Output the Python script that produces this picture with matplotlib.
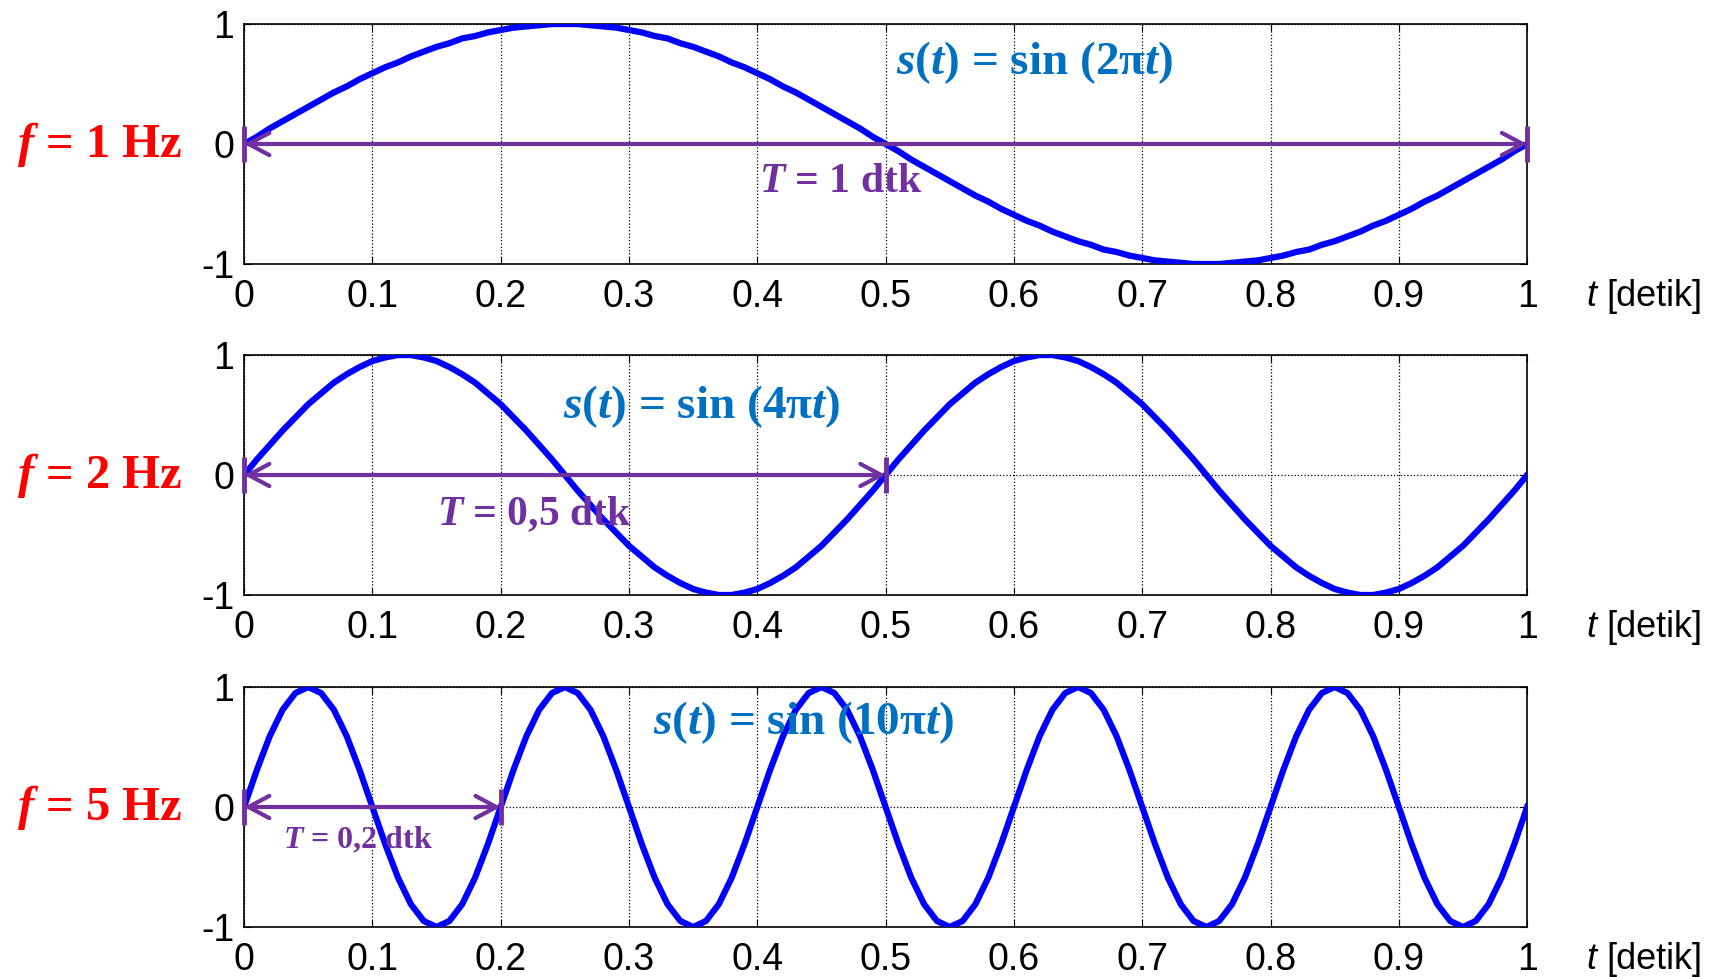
import matplotlib
matplotlib.use("Agg")
import matplotlib.pyplot as plt
import matplotlib.transforms as mtransforms

plt.rcParams['font.family'] = ['Liberation Sans', 'DejaVu Sans']
plt.rcParams['mathtext.fontset'] = 'custom'
plt.rcParams['mathtext.it'] = 'Liberation Serif:italic:bold'
plt.rcParams['mathtext.rm'] = 'Liberation Serif:bold'
plt.rcParams['mathtext.bf'] = 'Liberation Serif:bold'

# time axis [detik], sampled every 0.01 s
t = [k / 100 for k in range(101)]

# f = 1 Hz
s1 = [0.00, 0.06, 0.13, 0.19, 0.25, 0.31, 0.37, 0.43, 0.48, 0.54,
      0.59, 0.64, 0.68, 0.73, 0.77, 0.81, 0.84, 0.88, 0.90, 0.93,
      0.95, 0.97, 0.98, 0.99, 1.00, 1.00, 1.00, 0.99, 0.98, 0.97,
      0.95, 0.93, 0.90, 0.88, 0.84, 0.81, 0.77, 0.73, 0.68, 0.64,
      0.59, 0.54, 0.48, 0.43, 0.37, 0.31, 0.25, 0.19, 0.13, 0.06,
      0.00, -0.06, -0.13, -0.19, -0.25, -0.31, -0.37, -0.43, -0.48, -0.54,
      -0.59, -0.64, -0.68, -0.73, -0.77, -0.81, -0.84, -0.88, -0.90, -0.93,
      -0.95, -0.97, -0.98, -0.99, -1.00, -1.00, -1.00, -0.99, -0.98, -0.97,
      -0.95, -0.93, -0.90, -0.88, -0.84, -0.81, -0.77, -0.73, -0.68, -0.64,
      -0.59, -0.54, -0.48, -0.43, -0.37, -0.31, -0.25, -0.19, -0.13, -0.06,
      0.00]

# f = 2 Hz
s2 = [0.00, 0.13, 0.25, 0.37, 0.48, 0.59, 0.68, 0.77, 0.84, 0.90,
      0.95, 0.98, 1.00, 1.00, 0.98, 0.95, 0.90, 0.84, 0.77, 0.68,
      0.59, 0.48, 0.37, 0.25, 0.13, 0.00, -0.13, -0.25, -0.37, -0.48,
      -0.59, -0.68, -0.77, -0.84, -0.90, -0.95, -0.98, -1.00, -1.00, -0.98,
      -0.95, -0.90, -0.84, -0.77, -0.68, -0.59, -0.48, -0.37, -0.25, -0.13,
      0.00, 0.13, 0.25, 0.37, 0.48, 0.59, 0.68, 0.77, 0.84, 0.90,
      0.95, 0.98, 1.00, 1.00, 0.98, 0.95, 0.90, 0.84, 0.77, 0.68,
      0.59, 0.48, 0.37, 0.25, 0.13, 0.00, -0.13, -0.25, -0.37, -0.48,
      -0.59, -0.68, -0.77, -0.84, -0.90, -0.95, -0.98, -1.00, -1.00, -0.98,
      -0.95, -0.90, -0.84, -0.77, -0.68, -0.59, -0.48, -0.37, -0.25, -0.13,
      0.00]

# f = 5 Hz
s3 = [0.00, 0.31, 0.59, 0.81, 0.95, 1.00, 0.95, 0.81, 0.59, 0.31,
      0.00, -0.31, -0.59, -0.81, -0.95, -1.00, -0.95, -0.81, -0.59, -0.31,
      0.00, 0.31, 0.59, 0.81, 0.95, 1.00, 0.95, 0.81, 0.59, 0.31,
      0.00, -0.31, -0.59, -0.81, -0.95, -1.00, -0.95, -0.81, -0.59, -0.31,
      0.00, 0.31, 0.59, 0.81, 0.95, 1.00, 0.95, 0.81, 0.59, 0.31,
      0.00, -0.31, -0.59, -0.81, -0.95, -1.00, -0.95, -0.81, -0.59, -0.31,
      0.00, 0.31, 0.59, 0.81, 0.95, 1.00, 0.95, 0.81, 0.59, 0.31,
      0.00, -0.31, -0.59, -0.81, -0.95, -1.00, -0.95, -0.81, -0.59, -0.31,
      0.00, 0.31, 0.59, 0.81, 0.95, 1.00, 0.95, 0.81, 0.59, 0.31,
      0.00, -0.31, -0.59, -0.81, -0.95, -1.00, -0.95, -0.81, -0.59, -0.31,
      0.00]

signals = [s1, s2, s3]
periods = [1.0, 0.5, 0.2]
freq_labels = [r'$f$ = 1 Hz', r'$f$ = 2 Hz', r'$f$ = 5 Hz']
formulas = [r'$s$($t$) = sin (2π$t$)', r'$s$($t$) = sin (4π$t$)', r'$s$($t$) = sin (10π$t$)']
period_labels = [r'$T$ = 1 dtk', r'$T$ = 0,5 dtk', r'$T$ = 0,2 dtk']
xticks = [0, 0.1, 0.2, 0.3, 0.4, 0.5, 0.6, 0.7, 0.8, 0.9, 1]
xticklabels = ['0', '0.1', '0.2', '0.3', '0.4', '0.5', '0.6', '0.7', '0.8', '0.9', '1']
yticks = [-1, 0, 1]

# layout (data coords of annotation text)
formula_pos = [(0.616, 0.675), (0.357, 0.567), (0.436, 0.70)]
period_pos = [(0.465, -0.317), (0.226, -0.325), (0.089, -0.275)]
period_size = [30, 30, 23]

blue = '#0000FF'
formula_col = '#0070C0'
purple = '#7030A0'
red = '#FF0000'

fig = plt.figure(figsize=(17.25, 9.77), dpi=100)
bottoms = [0.7298, 0.391, 0.0512]

for i in range(3):
    ax = fig.add_axes([0.1415, bottoms[i], 0.7438, 0.2456])
    ax.plot(t, signals[i], color=blue, lw=4.5, zorder=3)
    ax.set_xlim(0, 1)
    ax.set_ylim(-1, 1)
    ax.set_xticks(xticks)
    ax.set_xticklabels(xticklabels)
    ax.set_yticks(yticks)
    ax.set_yticklabels(['-1', '0', '1'])
    ax.tick_params(direction='in', top=True, right=True, length=5, width=0.8,
                   labelsize=27)
    ax.tick_params(axis='x', pad=11)
    ax.tick_params(axis='y', pad=7)
    ax.grid(True, color='black', ls=':', lw=0.9)
    for sp in ax.spines.values():
        sp.set_linewidth(1.2)

    # period arrow
    T = periods[i]
    ax.annotate('', xy=(T, 0), xytext=(0, 0),
                arrowprops=dict(arrowstyle='<->,head_length=0.75,head_width=0.4',
                                color=purple, lw=3, shrinkA=0, shrinkB=0,
                                mutation_scale=20),
                zorder=4, annotation_clip=False)
    for xb in (0, T):
        ax.plot([xb, xb], [-0.15, 0.15], color=purple, lw=3.5,
                clip_on=False, zorder=4, solid_capstyle='butt')

    ax.text(formula_pos[i][0], formula_pos[i][1], formulas[i], color=formula_col,
            fontsize=34, fontfamily='Liberation Serif', fontweight='bold',
            ha='center', va='center', zorder=5)
    ax.text(period_pos[i][0], period_pos[i][1], period_labels[i], color=purple,
            fontsize=period_size[i], fontfamily='Liberation Serif',
            fontweight='bold', ha='center', va='center', zorder=5)

    trans = mtransforms.blended_transform_factory(ax.transAxes, ax.transData)
    ax.text(-0.048, 0, freq_labels[i], color=red, fontsize=35,
            fontfamily='Liberation Serif', fontweight='bold',
            ha='right', va='center', transform=trans)

    # x label to the right of the axis
    ax.text(1.046, -1.27, 't', fontsize=26, fontstyle='italic',
            ha='left', va='center', transform=ax.transData, clip_on=False)
    ax.text(1.062, -1.27, '[detik]', fontsize=26,
            ha='left', va='center', transform=ax.transData, clip_on=False)

fig.savefig('out.png', dpi=100)
